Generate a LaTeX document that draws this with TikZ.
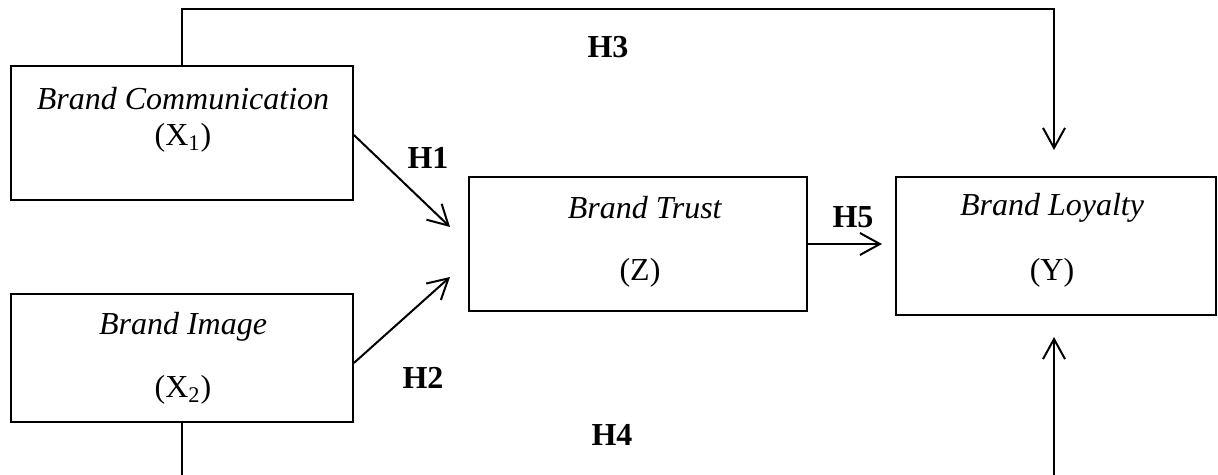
\documentclass[tikz,border=0pt]{standalone}
\usepackage{fontspec}
\setmainfont{Liberation Serif}
\usetikzlibrary{arrows.meta}

\tikzset{
	varbox/.style={draw,line width=0.9pt,inner sep=0pt},
	hyp/.style={font=\fontsize{16}{19}\selectfont\bfseries},
	arr/.style={line width=1pt,-{Straight Barb[length=10pt,width=11pt,line width=1pt]}}
}

\begin{document}
\begin{tikzpicture}[x=0.5pt,y=-0.5pt,font=\fontsize{16}{19}\selectfont]

	\useasboundingbox (0,0) rectangle (1218,475);

	% left boxes
	\node[varbox,minimum width=171pt,minimum height=67pt] (comm)  at (182,133) {};
	\node at (183,99)  (commname) {\textit{Brand Communication}};
	\node at (183,138) (commvar)  {(X\textsubscript{1})};

	\node[varbox,minimum width=171pt,minimum height=64pt] (image) at (182,358) {};
	\node at (183,327) (imagename) {\textit{Brand Image}};
	\node at (183,390) (imagevar)  {(X\textsubscript{2})};

	% middle box
	\node[varbox,minimum width=169pt,minimum height=67pt] (trust) at (638,244) {};
	\node at (645,208) (trustname) {\textit{Brand Trust}};
	\node at (640,273) (trustvar)  {(Z)};

	% right box
	\node[varbox,minimum width=160pt,minimum height=69pt] (loyal) at (1056,246) {};
	\node at (1052,208) (loyalname) {\textit{Brand Loyalty}};
	\node at (1052,273) (loyalvar)  {(Y)};

	% arrow ends
	\coordinate (h1end) at (450,227);
	\coordinate (h2end) at (450,277);
	\coordinate (h3end) at (1054,150);
	\coordinate (h5end) at (882,244);
	\coordinate (h4low) at (182,475);
	\coordinate (h4up)  at (1054,475);
	\coordinate (h4end) at (1054,337);

	% arrows
	\draw[arr] (comm.east) ++(0,2) -- (h1end);
	\draw[arr] (image.east) ++(0,5) -- (h2end);
	\draw[arr] (comm.north) -- ++(0,-56) -| (h3end);
	\draw[arr] (trust.east) -- (h5end);
	\draw[line width=1pt] (image.south) -- (h4low);
	\draw[arr] (h4up) -- (h4end);

	% hypotheses
	\node[hyp] at (428,158) (H1) {H1};
	\node[hyp] at (423,378) (H2) {H2};
	\node[hyp] at (608,47)  (H3) {H3};
	\node[hyp] at (612,435) (H4) {H4};
	\node[hyp] at (853,217) (H5) {H5};

\end{tikzpicture}
\end{document}
